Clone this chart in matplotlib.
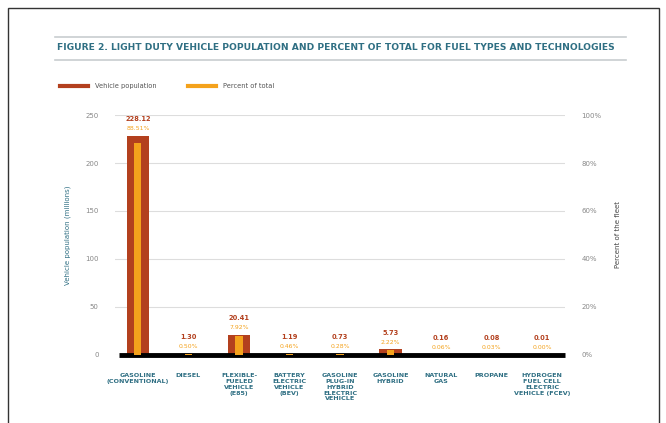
import matplotlib
matplotlib.use("Agg")
import matplotlib.pyplot as plt
from matplotlib.patches import Rectangle
from matplotlib.lines import Line2D

categories = [
    "GASOLINE\n(CONVENTIONAL)",
    "DIESEL",
    "FLEXIBLE-\nFUELED\nVEHICLE\n(E85)",
    "BATTERY\nELECTRIC\nVEHICLE\n(BEV)",
    "GASOLINE\nPLUG-IN\nHYBRID\nELECTRIC\nVEHICLE",
    "GASOLINE\nHYBRID",
    "NATURAL\nGAS",
    "PROPANE",
    "HYDROGEN\nFUEL CELL\nELECTRIC\nVEHICLE (FCEV)",
]
population = [228.12, 1.30, 20.41, 1.19, 0.73, 5.73, 0.16, 0.08, 0.01]
percent = [88.51, 0.50, 7.92, 0.46, 0.28, 2.22, 0.06, 0.03, 0.00]
left_ticks = [0, 50, 100, 150, 200, 250]
right_ticks = [0, 20, 40, 60, 80, 100]

RED = "#b3401e"
ORANGE = "#f4a21c"
TEAL = "#2f6f83"
GRID = "#dddddd"
TICK = "#888888"

fig = plt.figure(figsize=(6.66, 4.23), dpi=100)
fig.patch.set_facecolor("white")

# page frame
fig.add_artist(Rectangle((0.012, -0.05), 0.978, 1.03, transform=fig.transFigure,
                         fill=False, edgecolor="#333333", linewidth=1.0))

# title and rules
fig.add_artist(Line2D([0.083, 0.94], [0.913, 0.913], transform=fig.transFigure,
                      color="#c8cdd0", linewidth=1.2))
fig.add_artist(Line2D([0.083, 0.94], [0.858, 0.858], transform=fig.transFigure,
                      color="#c8cdd0", linewidth=1.2))
fig.text(0.085, 0.887, "FIGURE 2. LIGHT DUTY VEHICLE POPULATION AND PERCENT OF TOTAL FOR FUEL TYPES AND TECHNOLOGIES",
         fontsize=6.6, fontweight="bold", color=TEAL, va="center", ha="left")

# legend
fig.add_artist(Line2D([0.09, 0.132], [0.797, 0.797], transform=fig.transFigure,
                      color=RED, linewidth=3))
fig.text(0.142, 0.797, "Vehicle population", fontsize=4.8, color="#555555", va="center")
fig.add_artist(Line2D([0.283, 0.325], [0.797, 0.797], transform=fig.transFigure,
                      color=ORANGE, linewidth=3))
fig.text(0.335, 0.797, "Percent of total", fontsize=4.8, color="#555555", va="center")

ax = fig.add_axes([0.173, 0.161, 0.675, 0.567])
ax2 = ax.twinx()

x = list(range(len(categories)))
ax.bar(x, population, width=0.44, color=RED, zorder=3)
ax2.bar(x, percent, width=0.14, color=ORANGE, zorder=3)

ax.set_xlim(-0.45, len(categories) - 0.55)
ax.set_ylim(0, 250)
ax2.set_ylim(0, 100)
ax.set_yticks(left_ticks)
ax2.set_yticks(right_ticks)
ax2.set_yticklabels([f"{t}%" for t in right_ticks])
ax.set_xticks([])

for a in (ax, ax2):
    for s in a.spines.values():
        s.set_visible(False)
    a.tick_params(axis="y", length=0, labelsize=5, labelcolor=TICK, pad=12)

ax.yaxis.grid(True, color=GRID, linewidth=0.8, zorder=0)
ax.set_axisbelow(True)

ax.set_ylabel("Vehicle population (millions)", fontsize=5, color=TEAL, labelpad=10)
ax2.set_ylabel("Percent of the fleet", fontsize=5, color="#444444", labelpad=10)

# baseline
ax.plot([-0.37, len(categories) - 0.55], [0, 0], color="black", linewidth=3.5,
        zorder=4, clip_on=False, solid_capstyle="butt")

# value labels
for xi, p, pc in zip(x, population, percent):
    ax.annotate(f"{p:.2f}", (xi, p), xytext=(0, 10), textcoords="offset points",
                ha="center", va="bottom", fontsize=4.8, fontweight="bold", color=RED)
    ax.annotate(f"{pc:.2f}%", (xi, p), xytext=(0, 3.5), textcoords="offset points",
                ha="center", va="bottom", fontsize=4.4, color=ORANGE)

# category labels
for xi, c in zip(x, categories):
    ax.text(xi, -19, c, ha="center", va="top", fontsize=4.6, fontweight="bold",
            color=TEAL, linespacing=1.2)

fig.savefig("out.png", dpi=100)
